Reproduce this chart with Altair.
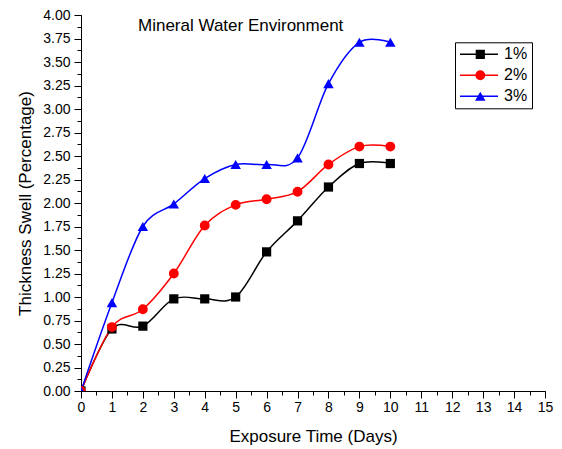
import altair as alt
import pandas as pd

# ---- data ----
days = list(range(11))
s1 = [0.00, 0.66, 0.69, 0.98, 0.98, 1.00, 1.48, 1.81, 2.17, 2.42, 2.42]
s2 = [0.00, 0.68, 0.87, 1.25, 1.76, 1.98, 2.04, 2.12, 2.41, 2.60, 2.60]
s3 = [0.00, 0.94, 1.75, 1.99, 2.26, 2.41, 2.41, 2.48, 3.27, 3.71, 3.71]
series = ["1%", "2%", "3%"]
colors = ["#000000", "#ff0000", "#0000ff"]
shapes = ["square", "circle", "triangle-up"]
marker_sizes = [85, 110, 130]
x_ticks = list(range(0, 16))
x_minor = [i * 0.5 for i in range(31)]
y_ticks = [i * 0.25 for i in range(17)]
y_minor = [i * 0.125 for i in range(33)]
chart_title = "Mineral Water Environment"
x_title = "Exposure Time (Days)"
y_title = "Thickness Swell (Percentage)"

rows = []
for name, vals in zip(series, [s1, s2, s3]):
    for d, v in zip(days, vals):
        rows.append({"day": d, "value": v, "series": name, "marker": name})
df = pd.DataFrame(rows)

FONT = "Liberation Sans"

xscale = alt.Scale(domain=[0, 15], nice=False, zero=False)
yscale = alt.Scale(domain=[0, 4], nice=False, zero=False)

x_axis = alt.Axis(values=x_ticks, tickSize=7, labelFontSize=14, labelFont=FONT, labelPadding=2,
                  title=x_title, titleFontSize=17, titleFont=FONT, titleFontWeight="normal",
                  titlePadding=14, grid=False, domainColor="black", tickColor="black",
                  labelColor="black", titleColor="black", orient="bottom", labelFlush=False)
y_axis = alt.Axis(values=y_ticks, format=".2f", tickSize=7, labelFontSize=14, labelFont=FONT,
                  labelPadding=4, title=y_title, titleFontSize=17, titleFont=FONT,
                  titleFontWeight="normal", titlePadding=8, grid=False, domainColor="black",
                  tickColor="black", labelColor="black", titleColor="black", orient="left",
                  labelFlush=False)

# legend built from two overlapping native legends: line part + marker part
LEG_X, LEG_Y = 374, 27.3
leg_lines = alt.Legend(orient="none", legendX=LEG_X, legendY=LEG_Y, strokeColor="black",
                       padding=4, labelFontSize=16, labelFont=FONT, labelColor="black",
                       symbolType="stroke", symbolSize=1444, symbolStrokeWidth=1.5,
                       clipHeight=16, rowPadding=5, labelOffset=5, title=None, cornerRadius=0)
leg_marks = alt.Legend(orient="none", legendX=LEG_X + 13.3, legendY=LEG_Y,
                       padding=4, labelFontSize=16, labelFont=FONT, labelExpr="''",
                       symbolStrokeWidth=0, clipHeight=16, rowPadding=5, title=None)

lines = alt.Chart(df).mark_line(interpolate="cardinal", strokeWidth=1.5, clip=True).encode(
    x=alt.X("day:Q", scale=xscale, axis=x_axis),
    y=alt.Y("value:Q", scale=yscale, axis=y_axis),
    stroke=alt.Stroke("series:N", scale=alt.Scale(domain=series, range=colors), legend=leg_lines),
)

points = alt.Chart(df).mark_point(filled=True, opacity=1, clip=True).encode(
    x=alt.X("day:Q", scale=xscale, axis=None),
    y=alt.Y("value:Q", scale=yscale, axis=None),
    fill=alt.Fill("marker:N", scale=alt.Scale(range=colors), legend=leg_marks),
    shape=alt.Shape("marker:N", scale=alt.Scale(range=shapes), legend=leg_marks),
    size=alt.Size("marker:N", scale=alt.Scale(range=marker_sizes), legend=leg_marks),
)

minor = alt.Chart(df).mark_point(opacity=0).encode(
    x=alt.X("day:Q", scale=xscale,
            axis=alt.Axis(values=x_minor, tickSize=4, labels=False, domain=False, title=None,
                          grid=False, tickColor="black", orient="bottom")),
    y=alt.Y("value:Q", scale=yscale,
            axis=alt.Axis(values=y_minor, tickSize=4, labels=False, domain=False, title=None,
                          grid=False, tickColor="black", orient="left")),
)

title_layer = alt.Chart(pd.DataFrame({"t": [chart_title]})).mark_text(
    align="left", baseline="alphabetic", fontSize=17, font=FONT, color="black"
).encode(text="t:N", x=alt.value(57), y=alt.value(15.7))

chart = alt.layer(lines, points, minor, title_layer).resolve_axis(
    x="independent", y="independent"
).properties(
    width=464, height=376,
    autosize=alt.AutoSizeParams(type="none"),
    padding={"left": 73, "top": 7, "right": 9, "bottom": 66},
).configure_view(stroke=None)

chart.save("out.html", embed_options={"renderer": "svg", "actions": False})
